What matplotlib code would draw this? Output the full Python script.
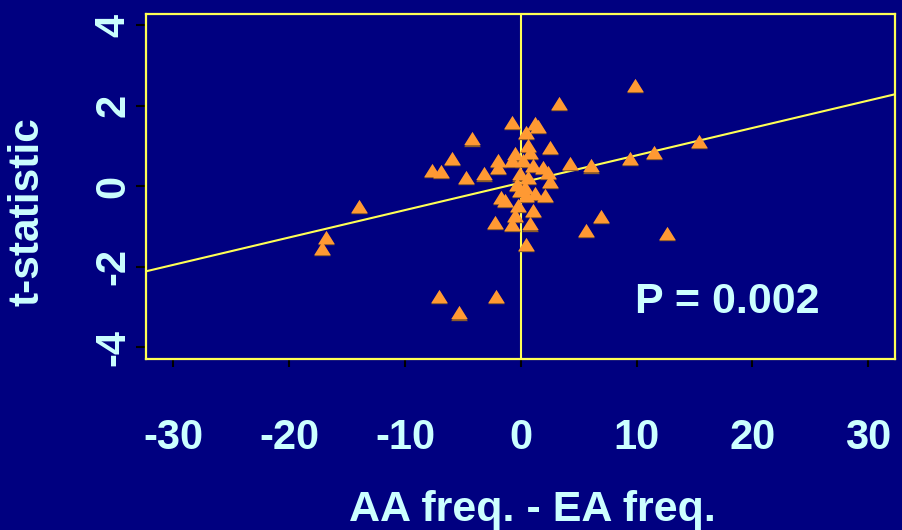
import matplotlib.pyplot as plt
import matplotlib.transforms as mtransforms
import numpy as np

# allele frequency difference (AA - EA) and t-statistic per marker
freq_diff = [-17.2, -16.85, -14.0, -7.7, -7.1, -6.85, -5.9, -5.3, -4.77, -4.2,
             -3.2, -2.24, -2.16, -1.96, -1.96, -1.67, -1.38, -0.8, -0.8, -0.72,
             -0.52, -0.52, -0.37, -0.23, -0.09, -0.09, 0.2, 0.35, 0.49, 0.49,
             0.49, 0.63, 0.63, 0.78, 0.78, 1.06, 1.06, 1.2, 1.5, 1.21,
             1.92, 2.07, 2.36, 2.56, 2.5, 3.3, 4.25, 5.67, 6.1, 6.96,
             9.4, 9.84, 11.5, 12.66, 15.4]
t_stat = [-1.52, -1.25, -0.49, 0.40, -2.72, 0.39, 0.70, -3.13, 0.24, 1.19,
          0.32, -0.88, -2.72, 0.65, 0.49, -0.26, -0.34, 0.65, -0.94, 1.60,
          0.82, -0.71, 0.07, -0.46, 0.32, -0.09, 0.65, -0.01, 1.36, -0.22,
          -1.42, 1.03, 0.24, 0.86, -0.92, 0.53, -0.59, 1.57, 1.50, -0.17,
          0.49, -0.22, 0.36, 0.97, 0.13, 2.08, 0.58, -1.09, 0.52, -0.74,
          0.70, 2.52, 0.86, -1.15, 1.13]

# fitted regression line
fit_slope = 0.068
fit_intercept = 0.09
p_value = "P = 0.002"

x_ticks = [-30, -20, -10, 0, 10, 20, 30]
y_ticks = [-4, -2, 0, 2, 4]

navy = '#000080'
txt = '#ccffff'
yellow = '#ffff55'
orange = '#ff9933'

plt.rcParams['font.family'] = ['Liberation Sans', 'DejaVu Sans']
plt.rcParams['font.weight'] = 'bold'

fig = plt.figure(figsize=(9.02, 5.30), dpi=100, facecolor=navy)
ax = fig.add_axes([0.1619, 0.3217, 0.8303, 0.6519])
ax.set_facecolor(navy)
ax.set_xlim(-32.35, 32.3)
ax.set_ylim(-4.3, 4.28)

for s in ax.spines.values():
    s.set_color(yellow)
    s.set_linewidth(1.6)

# zero line and regression line
ax.axvline(0, color=yellow, lw=1.5, zorder=1)
xs = np.array(ax.get_xlim())
ax.plot(xs, fit_slope * xs + fit_intercept, color=yellow, lw=1.5, zorder=2)

tri = [(-1, -0.8), (1, -0.8), (0, 0.8), (-1, -0.8)]
shadow = mtransforms.offset_copy(ax.transData, fig=fig, x=0, y=-1.2, units='dots')
ax.scatter(freq_diff, t_stat, marker=tri, s=12**2, color='#8a5a2a',
           linewidths=0, transform=shadow, zorder=3)
ax.scatter(freq_diff, t_stat, marker=tri, s=12**2, color=orange,
           linewidths=0, zorder=4)

ax.set_xticks(x_ticks)
ax.set_yticks(y_ticks)
ax.set_xticklabels([str(v) for v in x_ticks])
ax.set_yticklabels([str(v) for v in y_ticks], rotation=90, va='center')
ax.tick_params(axis='x', colors='black', length=6, width=1.5, pad=36,
               labelcolor=txt, labelsize=30)
ax.tick_params(axis='y', colors='black', length=7, width=1.5, pad=2,
               labelcolor=txt, labelsize=30)

ax.text(0.90, 0.165, p_value, transform=ax.transAxes, color=txt,
        fontsize=31, fontweight='bold', ha='right', va='center')

fig.text(0.03, 0.6, 't-statistic', rotation=90, color=txt, fontsize=30.5,
         fontweight='bold', ha='center', va='center')
fig.text(0.59, 0.038, 'AA freq. - EA freq.', color=txt, fontsize=31,
         fontweight='bold', ha='center', va='center')

plt.savefig('out.png', dpi=100, facecolor=navy)
